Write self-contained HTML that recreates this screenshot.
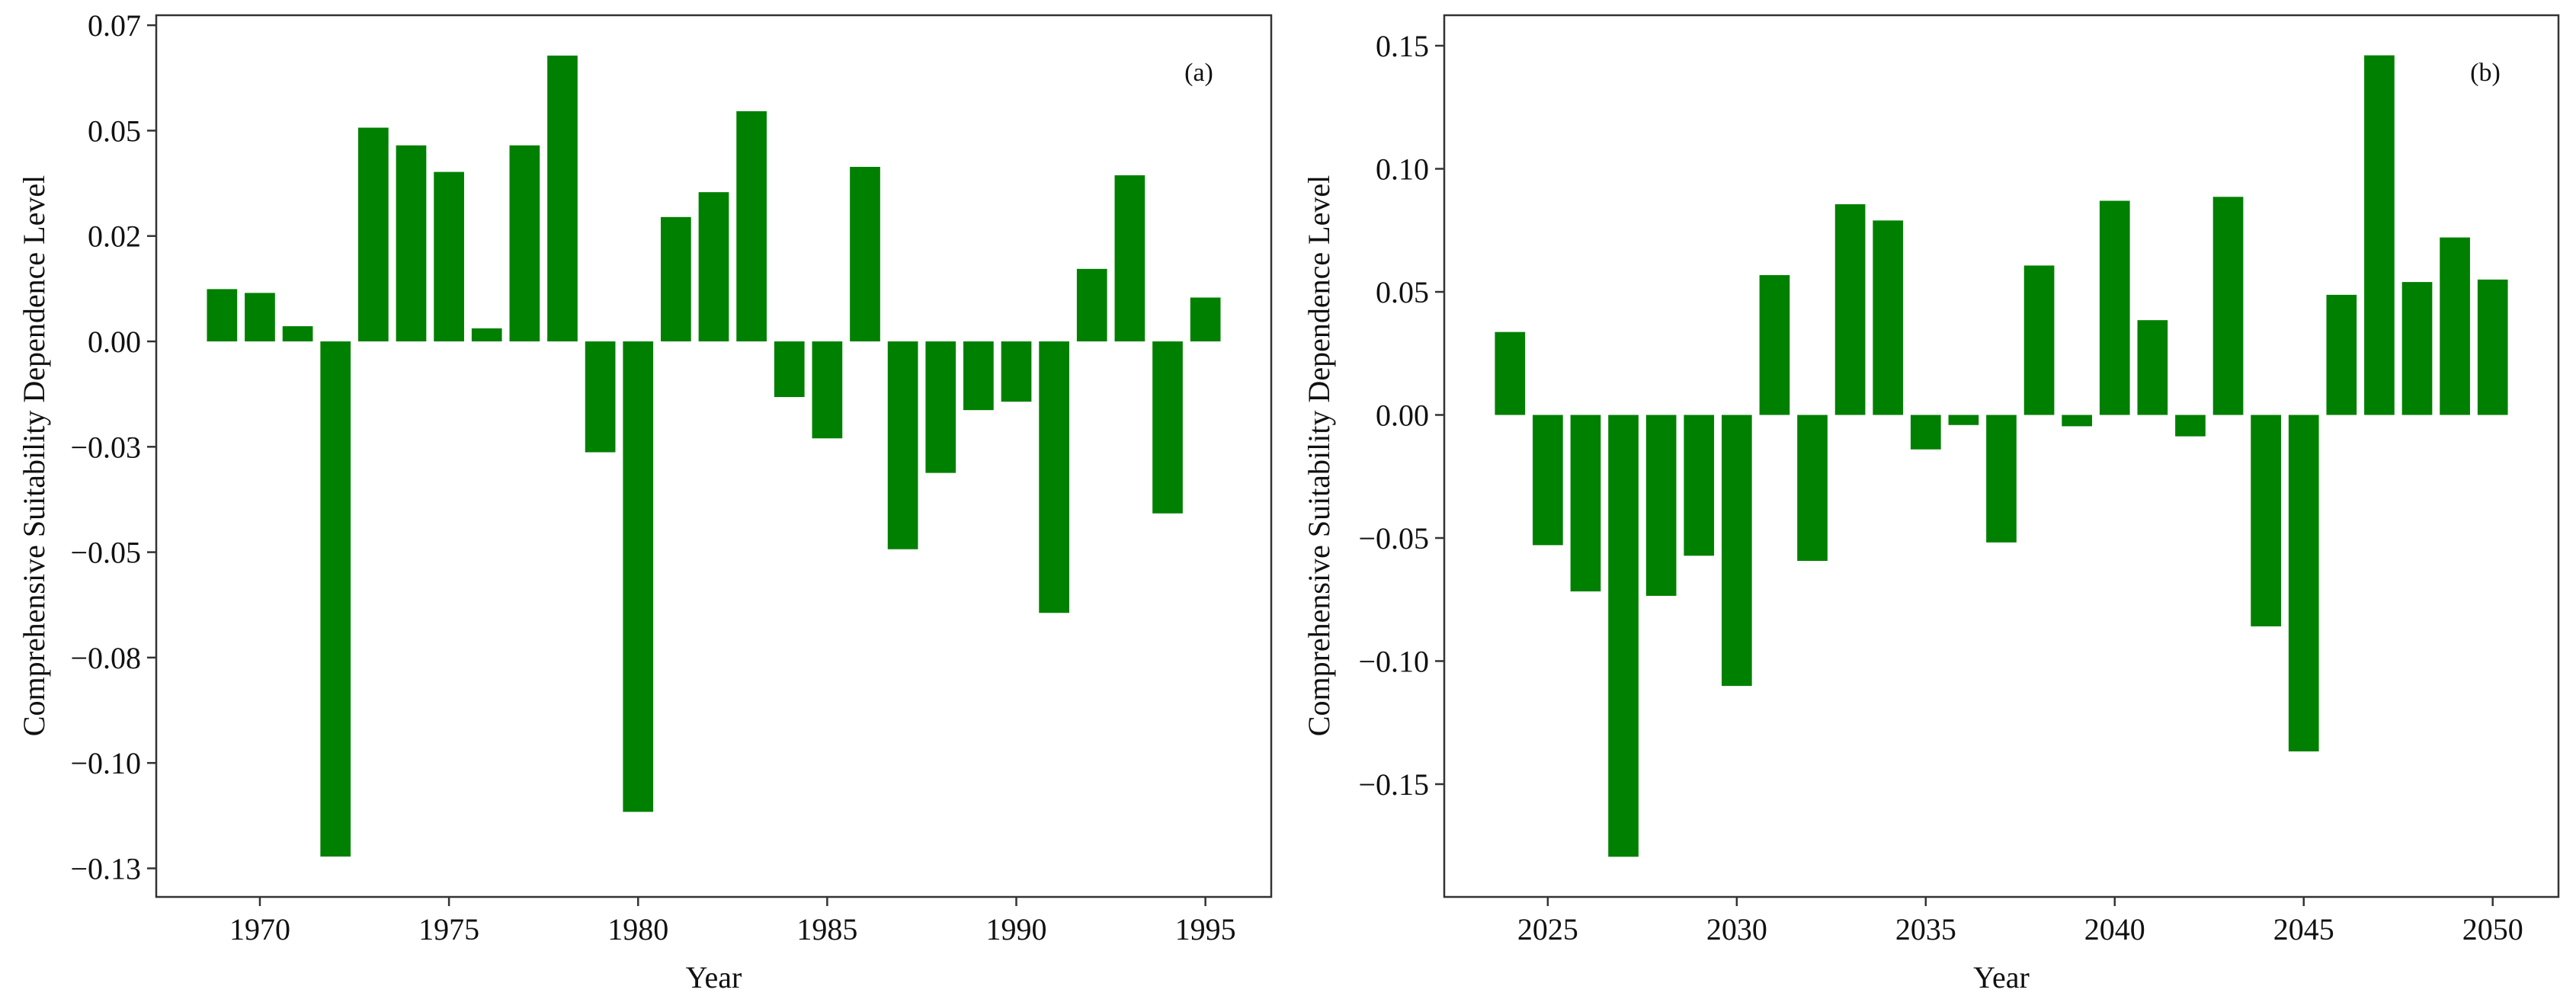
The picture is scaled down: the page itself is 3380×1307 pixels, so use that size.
<!DOCTYPE html>
<html><head><meta charset="utf-8"><style>
html,body{margin:0;padding:0;background:#fff;}
svg{display:block;font-family:"Liberation Serif","DejaVu Serif",serif;}
</style></head><body>
<svg id="chart" width="3380" height="1307" viewBox="0 0 3380 1307" xmlns="http://www.w3.org/2000/svg">
<rect width="3380" height="1307" fill="#fff"/>
<g id="panelA"></g>
<g id="panelB"></g>
</svg>
<script>
const yearsA = [1969,1970,1971,1972,1973,1974,1975,1976,1977,1978,1979,1980,1981,1982,1983,1984,1985,1986,1987,1988,1989,1990,1991,1992,1993,1994,1995];
const valuesA = [0.0124,0.0115,0.0036,-0.1222,0.0507,0.0465,0.0402,0.0031,0.0465,0.0678,-0.0263,-0.1116,0.0295,0.0354,0.0546,-0.0132,-0.0230,0.0414,-0.0493,-0.0312,-0.0163,-0.0143,-0.0644,0.0172,0.0394,-0.0408,0.0104];
const yTicksA = [0.075,0.05,0.025,0,-0.025,-0.05,-0.075,-0.1,-0.125];
const yTickLabelsA = ["0.07","0.05","0.02","0.00","\u22120.03","\u22120.05","\u22120.08","\u22120.10","\u22120.13"];
const xTicksA = [1970,1975,1980,1985,1990,1995];

const yearsB = [2024,2025,2026,2027,2028,2029,2030,2031,2032,2033,2034,2035,2036,2037,2038,2039,2040,2041,2042,2043,2044,2045,2046,2047,2048,2049,2050];
const valuesB = [0.0337,-0.0529,-0.0717,-0.1795,-0.0735,-0.0572,-0.1101,0.0568,-0.0593,0.0856,0.0790,-0.0140,-0.0041,-0.0518,0.0607,-0.0046,0.0870,0.0385,-0.0087,0.0886,-0.0859,-0.1367,0.0488,0.1461,0.0540,0.0721,0.0550];
const yTicksB = [0.15,0.1,0.05,0,-0.05,-0.1,-0.15];
const yTickLabelsB = ["0.15","0.10","0.05","0.00","\u22120.05","\u22120.10","\u22120.15"];
const xTicksB = [2025,2030,2035,2040,2045,2050];

const NS = "http://www.w3.org/2000/svg";
function mk(tag, attrs, parent){
  const e = document.createElementNS(NS, tag);
  for (const k in attrs) e.setAttribute(k, attrs[k]);
  parent.appendChild(e);
  return e;
}

function drawPanel(g, years, values, yTicks, yLabels, xTicks, cfg){
  const x = v => cfg.left + (v - cfg.xmin) / (cfg.xmax - cfg.xmin) * (cfg.right - cfg.left);
  const y = v => cfg.zeroY - v * cfg.pxPerUnit;
  const bw = 0.8 * (cfg.right - cfg.left) / (cfg.xmax - cfg.xmin);
  years.forEach((yr, i) => {
    const v = values[i];
    const r = mk('rect', {x: x(yr) - bw/2, y: Math.min(y(v), y(0)), width: bw, height: Math.abs(y(v) - y(0)), fill: '#008000'}, g);
    
    
  });
  const f = mk('rect', {x: cfg.left, y: cfg.top, width: cfg.right - cfg.left, height: cfg.bottom - cfg.top, fill: 'none', stroke: '#333', 'stroke-width': 2.5}, g);
  
  
  yTicks.forEach((t, i) => {
    const ty = y(t);
    const l = mk('line', {x1: cfg.left - 12, x2: cfg.left, y1: ty, y2: ty, stroke: '#333', 'stroke-width': 2.5}, g);
    
    
    const tx = mk('text', {x: cfg.left - 20, y: ty + 14, 'text-anchor': 'end', 'font-size': 40, fill: '#111'}, g);
    tx.textContent = yLabels[i];
    
    
  });
  xTicks.forEach(t => {
    const tx0 = x(t);
    const l = mk('line', {x1: tx0, x2: tx0, y1: cfg.bottom, y2: cfg.bottom + 12, stroke: '#333', 'stroke-width': 2.5}, g);
    
    
    const tx = mk('text', {x: tx0, y: cfg.bottom + 56, 'text-anchor': 'middle', 'font-size': 40, fill: '#111'}, g);
    tx.textContent = t;
    
    
  });
  const xt = mk('text', {x: (cfg.left + cfg.right)/2, y: 1296, 'text-anchor': 'middle', 'font-size': 40, fill: '#111'}, g);
  xt.textContent = 'Year';
  
  
  const yt = mk('text', {x: 0, y: 0, 'text-anchor': 'middle', 'font-size': 40, fill: '#111', transform: 'translate(' + cfg.titleX + ',598) rotate(-90)'}, g);
  yt.textContent = 'Comprehensive Suitability Dependence Level';
  
  
  const pl = mk('text', {x: cfg.labelX, y: 106, 'text-anchor': 'middle', 'font-size': 34, fill: '#111'}, g);
  pl.textContent = cfg.label;
  
  
}

drawPanel(document.getElementById('panelA'), yearsA, valuesA, yTicksA, yTickLabelsA, xTicksA,
  {left: 205, right: 1668, top: 20, bottom: 1177, xmin: 1967.26, xmax: 1996.74, zeroY: 448, pxPerUnit: 5532, titleX: 58, labelX: 1573, label: '(a)'});
drawPanel(document.getElementById('panelB'), yearsB, valuesB, yTicksB, yTickLabelsB, xTicksB,
  {left: 1895, right: 3357, top: 20, bottom: 1177, xmin: 2022.26, xmax: 2051.74, zeroY: 544.5, pxPerUnit: 3230, titleX: 1744, labelX: 3261, label: '(b)'});
</script>
</body></html>
